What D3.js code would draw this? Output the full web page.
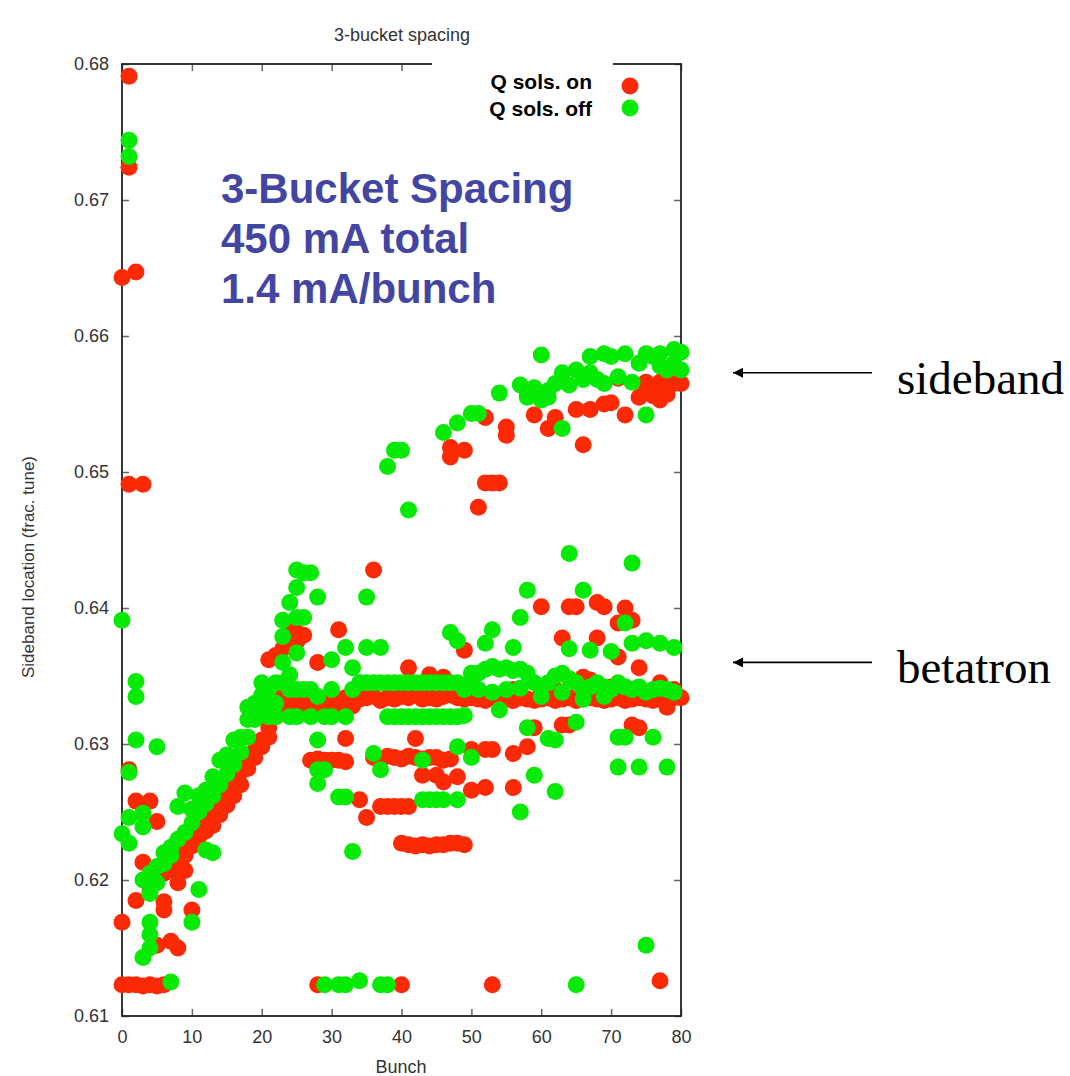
<!DOCTYPE html>
<html>
<head>
<meta charset="utf-8">
<script src="https://cdn.jsdelivr.net/npm/d3@7"></script>
<style>
  html, body { margin: 0; padding: 0; background: #fff; }
  svg { display: block; }
</style>
</head>
<body>
<svg id="chart" width="1070" height="1076"></svg>
<script>
// ---------------- data ----------------
const chartTitle = "3-bucket spacing";
const xLabel = "Bunch";
const yLabel = "Sideband location (frac. tune)";
const xTicks = [0, 10, 20, 30, 40, 50, 60, 70, 80];
const yTicks = [0.61, 0.62, 0.63, 0.64, 0.65, 0.66, 0.67, 0.68];
const seriesNames = ["Q sols. on", "Q sols. off"];
const noteLines = ["3-Bucket Spacing", "450 mA total", "1.4 mA/bunch"];
const arrowLabels = ["sideband", "betatron"];
const arrowValues = [0.6573, 0.6360];

// Q sols. on  [bunch, tune]
const solsOn = [
  [1,0.6791],[1,0.6724],[0,0.6643],[2,0.6647],[1,0.6491],[3,0.6491],
  [0,0.6169],[0,0.6123],[1,0.6123],[2,0.6123],[3,0.6122],[4,0.6123],[5,0.6122],[6,0.6123],
  [1,0.6281],[2,0.6258],[4,0.6258],[5,0.6243],[3,0.6213],[2,0.6185],[6,0.6184],[6,0.6178],
  [8,0.6198],[9,0.6207],[7,0.6155],[5,0.6152],[8,0.6150],[10,0.6178],[8,0.6212],
  [4,0.6192],[5,0.6200],[6,0.6205],[6,0.6212],[7,0.6215],[7,0.6208],[8,0.6222],[9,0.6228],[9,0.6218],
  [10,0.6235],[10,0.6225],[11,0.6240],[11,0.6232],[12,0.6246],[12,0.6236],[13,0.6250],[13,0.6240],
  [14,0.6258],[14,0.6248],[15,0.6265],[15,0.6255],[16,0.6272],[16,0.6262],[17,0.6280],[17,0.6270],
  [18,0.6288],[18,0.6282],[19,0.6295],[19,0.6290],[20,0.6303],[20,0.6298],[21,0.6312],[21,0.6305],
  [21,0.6362],[22,0.6320],[22,0.6365],[23,0.6370],
  [22,0.6336],[23,0.6338],[24,0.6334],[25,0.6336],[26,0.6335],[27,0.6333],[28,0.6334],[29,0.6333],
  [30,0.6335],[31,0.6333],[32,0.6334],[33,0.6336],[34,0.6333],[35,0.6334],[36,0.6335],[37,0.6332],
  [38,0.6334],[39,0.6333],[40,0.6335],[41,0.6334],[42,0.6336],[43,0.6333],[44,0.6334],[45,0.6333],
  [46,0.6335],[47,0.6336],[48,0.6334],[49,0.6333],[50,0.6334],[51,0.6333],[52,0.6332],[53,0.6334],
  [54,0.6333],[55,0.6333],[56,0.6332],[57,0.6334],[58,0.6333],[59,0.6332],[60,0.6333],[61,0.6334],
  [62,0.6332],[63,0.6333],[64,0.6334],[65,0.6332],[66,0.6333],[67,0.6334],[68,0.6333],[69,0.6332],
  [70,0.6333],[71,0.6334],[72,0.6332],[73,0.6333],[74,0.6334],[75,0.6333],[76,0.6332],[77,0.6333],
  [78,0.6335],[79,0.6334],[80,0.6334],
  [23,0.6328],[25,0.6327],[27,0.6328],[29,0.6326],[31,0.6327],[33,0.6328],
  [24,0.6384],[25,0.6382],[25,0.6375],[26,0.6380],[28,0.6360],[31,0.6384],[36,0.6428],
  [41,0.6356],[44,0.6351],[46,0.6349],[49,0.6369],
  [32,0.6304],[42,0.6304],
  [27,0.6288],[28,0.6289],[29,0.6288],[30,0.6288],[31,0.6288],[32,0.6287],
  [36,0.6290],[37,0.6289],[38,0.6291],[39,0.6290],[40,0.6289],[41,0.6291],[42,0.6290],
  [43,0.6289],[44,0.6290],[45,0.6290],[46,0.6288],[47,0.6289],
  [43,0.6277],[45,0.6277],[48,0.6276],[46,0.6272],
  [34,0.6259],[35,0.6246],[37,0.6254],[38,0.6254],[39,0.6254],[40,0.6254],[41,0.6254],
  [40,0.6227],[41,0.6226],[42,0.6225],[43,0.6226],[44,0.6225],[45,0.6226],[46,0.6226],
  [47,0.6227],[48,0.6227],[49,0.6226],
  [28,0.6123],[40,0.6123],[53,0.6123],[77,0.6126],
  [50,0.6296],[52,0.6296],[53,0.6296],[56,0.6293],[58,0.6298],[50,0.6266],[52,0.6268],[56,0.6268],
  [59,0.6312],[63,0.6314],[64,0.6314],[73,0.6314],[74,0.6312],
  [60,0.6401],[64,0.6401],[65,0.6401],[68,0.6404],[69,0.6401],[72,0.6400],[73,0.6391],[71,0.6389],
  [63,0.6378],[68,0.6378],[71,0.6364],[74,0.6356],[66,0.6349],[67,0.6347],[78,0.6327],
  [56,0.6340],[60,0.6338],[62,0.6340],[70,0.6342],[75,0.6338],[77,0.6345],[79,0.6340],
  [47,0.6518],[49,0.6516],[47,0.6511],[52,0.6540],[55,0.6533],[55,0.6527],
  [52,0.6492],[53,0.6492],[54,0.6492],[51,0.6474],
  [59,0.6542],[62,0.6540],[61,0.6532],[66,0.6520],[65,0.6546],[67,0.6546],[69,0.6550],[70,0.6551],
  [72,0.6542],[71,0.6569],[74,0.6555],[75,0.6560],[76,0.6562],[77,0.6553],[78,0.6562],[79,0.6565],
  [80,0.6565],[75,0.6566],[76,0.6556],[78,0.6557],[77,0.6566]
];

// Q sols. off  [bunch, tune]
const solsOff = [
  [1,0.6744],[1,0.6732],[0,0.6391],[2,0.6346],[2,0.6335],[2,0.6303],[5,0.6298],[1,0.6279],
  [1,0.6246],[3,0.6249],[3,0.6239],[0,0.6234],[1,0.6227],[3,0.6200],[4,0.6190],[4,0.6169],
  [4,0.6160],[4,0.6150],[3,0.6143],[7,0.6125],[11,0.6193],[10,0.6169],[12,0.6222],[13,0.6220],
  [4,0.6205],[5,0.6198],[5,0.6210],[6,0.6212],[6,0.6220],[7,0.6218],[7,0.6224],[8,0.6230],
  [8,0.6254],[9,0.6235],[9,0.6264],[10,0.6242],[10,0.6252],[11,0.6250],[11,0.6262],[12,0.6256],
  [12,0.6266],[13,0.6262],[13,0.6276],[14,0.6270],[14,0.6288],[15,0.6278],[15,0.6292],[16,0.6285],
  [16,0.6303],[17,0.6294],[17,0.6305],[18,0.6305],[18,0.6327],[18,0.6318],[19,0.6318],[19,0.6330],
  [20,0.6325],[20,0.6345],[20,0.6336],[21,0.6340],[21,0.6330],[21,0.6320],[22,0.6345],[22,0.6330],
  [22,0.6320],
  [23,0.6391],[23,0.6379],[23,0.6360],[23,0.6345],[24,0.6404],[24,0.6351],[24,0.6340],[24,0.6320],
  [25,0.6428],[25,0.6415],[25,0.6393],[25,0.6367],[25,0.6340],[25,0.6320],[26,0.6426],[26,0.6393],
  [26,0.6340],[27,0.6426],[27,0.6340],[27,0.6320],[28,0.6408],[28,0.6335],[28,0.6303],[28,0.6281],
  [28,0.6271],[29,0.6123],[29,0.6320],[29,0.6281],[30,0.6362],[30,0.6340],[30,0.6320],[31,0.6261],
  [31,0.6123],[32,0.6371],[32,0.6261],[32,0.6123],[32,0.6320],[33,0.6356],[33,0.6221],[33,0.6340],
  [34,0.6126],[34,0.6345],[35,0.6408],[35,0.6371],[35,0.6345],[36,0.6293],[36,0.6345],[37,0.6123],
  [37,0.6371],[37,0.6281],[37,0.6345],[38,0.6123],[38,0.6345],[38,0.6320],[39,0.6345],[39,0.6320],
  [40,0.6345],[40,0.6320],[41,0.6345],[41,0.6320],[42,0.6345],[42,0.6320],[43,0.6345],[43,0.6320],
  [43,0.6288],[43,0.6259],[44,0.6345],[44,0.6320],[44,0.6259],[45,0.6345],[45,0.6320],[45,0.6259],
  [46,0.6345],[46,0.6320],[46,0.6259],[47,0.6345],[47,0.6320],[47,0.6382],[48,0.6376],[48,0.6345],
  [48,0.6320],[48,0.6298],[48,0.6259],[49,0.6321],[49,0.6340],
  [38,0.6504],[39,0.6516],[40,0.6516],[41,0.6472],[46,0.6529],[48,0.6536],[50,0.6543],[51,0.6543],
  [54,0.6558],[57,0.6564],[58,0.6557],[59,0.6562],[60,0.6586],[61,0.6560],[58,0.6555],[60,0.6553],
  [63,0.6532],[63,0.6573],[64,0.6564],[65,0.6575],[66,0.6568],[67,0.6573],[68,0.6568],[67,0.6585],
  [69,0.6587],[70,0.6585],[72,0.6587],[73,0.6566],[74,0.6580],[75,0.6587],[75,0.6542],[76,0.6585],
  [77,0.6587],[78,0.6575],[79,0.6590],[79,0.6580],[80,0.6588],[62,0.6565],[61,0.6555],[69,0.6565],
  [71,0.6570],[77,0.6578],[80,0.6575],
  [50,0.6352],[50,0.6290],[52,0.6374],[53,0.6384],[54,0.6325],[56,0.6371],[57,0.6393],[58,0.6413],
  [58,0.6312],[59,0.6277],[61,0.6304],[62,0.6303],[62,0.6265],[57,0.6250],[64,0.6440],[65,0.6316],
  [66,0.6413],[71,0.6305],[72,0.6305],[76,0.6305],[71,0.6283],[74,0.6283],[78,0.6283],[72,0.6389],
  [73,0.6433],[73,0.6374],[75,0.6376],[77,0.6374],[79,0.6371],[64,0.6370],[67,0.6369],[70,0.6368],
  [50,0.6345],[51,0.6352],[52,0.6355],[53,0.6357],[54,0.6355],[55,0.6356],[56,0.6354],[57,0.6355],
  [58,0.6352],[59,0.6345],[60,0.6342],[61,0.6345],[62,0.6350],[63,0.6352],[64,0.6348],[65,0.6345],
  [66,0.6340],[67,0.6342],[68,0.6345],[69,0.6342],[70,0.6340],[71,0.6345],[72,0.6342],[73,0.6340],
  [74,0.6342],[75,0.6338],[76,0.6340],[77,0.6341],[78,0.6340],[79,0.6338],
  [51,0.6340],[53,0.6338],[55,0.6340],[57,0.6341],[60,0.6335],[63,0.6338],[66,0.6333],[69,0.6335],
  [65,0.6123],[75,0.6152]
];

const seriesColors = ["#fb2a05", "#06ea06"];

// ---------------- drawing ----------------
const svg = d3.select("#chart");
const margin = { left: 122, right: 681, top: 64, bottom: 1016 };
const x = d3.scaleLinear().domain([0, 80]).range([margin.left, margin.right]);
const y = d3.scaleLinear().domain([0.61, 0.68]).range([margin.bottom, margin.top]);
const font = "'Liberation Sans', Arial, sans-serif";

// title
svg.append("text").attr("x", 402).attr("y", 41).attr("text-anchor", "middle")
  .attr("font-family", font).attr("font-size", 18).attr("fill", "#333").text(chartTitle);

// axes (inward mirrored ticks)
const axL = svg.append("g").attr("transform", `translate(${margin.left},0)`)
  .call(d3.axisLeft(y).tickValues(yTicks).tickFormat(d3.format(".2f")).tickSize(-7).tickPadding(13));
const axR = svg.append("g").attr("transform", `translate(${margin.right},0)`)
  .call(d3.axisRight(y).tickValues(yTicks).tickFormat("").tickSize(-7));
const axB = svg.append("g").attr("transform", `translate(0,${margin.bottom})`)
  .call(d3.axisBottom(x).tickValues(xTicks).tickSize(-7).tickPadding(14));
const axT = svg.append("g").attr("transform", `translate(0,${margin.top})`)
  .call(d3.axisTop(x).tickValues(xTicks).tickFormat("").tickSize(-7));
[axL, axR, axB, axT].forEach(g => {
  g.select(".domain").remove();
  g.selectAll(".tick line").attr("stroke", "#666").attr("stroke-width", 1.5);
  g.selectAll(".tick text").attr("font-family", font).attr("font-size", 18).attr("fill", "#333");
});

// frame
svg.append("rect").attr("x", margin.left).attr("y", margin.top)
  .attr("width", margin.right - margin.left).attr("height", margin.bottom - margin.top)
  .attr("fill", "none").attr("stroke", "#222").attr("stroke-width", 1.8);

// axis labels
svg.append("text").attr("x", 401).attr("y", 1073).attr("text-anchor", "middle")
  .attr("font-family", font).attr("font-size", 18).attr("fill", "#333").text(xLabel);
svg.append("text").attr("transform", "translate(34,567) rotate(-90)").attr("text-anchor", "middle")
  .attr("font-family", font).attr("font-size", 17).attr("fill", "#333").text(yLabel);

// points
const r = 8.5;
svg.append("g").selectAll("circle").data(solsOn).join("circle")
  .attr("cx", d => x(d[0])).attr("cy", d => y(d[1])).attr("r", r).attr("fill", seriesColors[0]);
svg.append("g").selectAll("circle").data(solsOff).join("circle")
  .attr("cx", d => x(d[0])).attr("cy", d => y(d[1])).attr("r", r).attr("fill", seriesColors[1]);

// legend
svg.append("rect").attr("x", 432).attr("y", 56).attr("width", 181).attr("height", 68).attr("fill", "#fff");
seriesNames.forEach((name, i) => {
  const ly = 82 + i * 27;
  svg.append("text").attr("x", 592).attr("y", ly + 7).attr("text-anchor", "end")
    .attr("font-family", font).attr("font-size", 21).attr("font-weight", "bold").attr("fill", "#000").text(name);
  svg.append("circle").attr("cx", 630).attr("cy", i === 0 ? 86 : 108).attr("r", r).attr("fill", seriesColors[i]);
});

// annotation
noteLines.forEach((t, i) => {
  svg.append("text").attr("x", 221).attr("y", 203 + i * 50)
    .attr("font-family", font).attr("font-size", 42).attr("font-weight", "bold")
    .attr("fill", "#4345a3").text(t);
});

// arrows
const defs = svg.append("defs");
defs.append("marker").attr("id", "ah").attr("viewBox", "0 0 10 10").attr("refX", 10).attr("refY", 5)
  .attr("markerWidth", 14).attr("markerHeight", 10).attr("markerUnits", "userSpaceOnUse")
  .attr("orient", "auto").append("path").attr("d", "M0,0 L10,5 L0,10 Z").attr("fill", "#000");
arrowLabels.forEach((t, i) => {
  const ay = y(arrowValues[i]);
  svg.append("line").attr("x1", 872).attr("y1", ay).attr("x2", 733).attr("y2", ay)
    .attr("stroke", "#000").attr("stroke-width", 1.6).attr("marker-end", "url(#ah)");
  svg.append("text").attr("x", 897).attr("y", ay + 21)
    .attr("font-family", "'Liberation Serif', 'Times New Roman', serif").attr("font-size", 47)
    .attr("fill", "#000").text(t);
});
</script>
</body>
</html>
